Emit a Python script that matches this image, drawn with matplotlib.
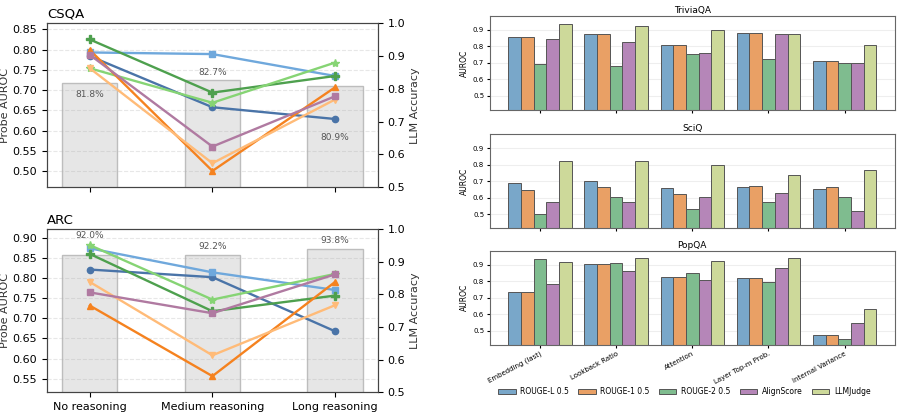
import numpy as np
import matplotlib
matplotlib.use("Agg")
import matplotlib.pyplot as plt

# ------------------------------------------------------------------
# Data
# ------------------------------------------------------------------
reasoning = ["No reasoning", "Medium reasoning", "Long reasoning"]

csqa_acc = [81.8, 82.7, 80.9]
csqa_lines = [
    [0.784, 0.658, 0.629],
    [0.793, 0.789, 0.735],
    [0.825, 0.694, 0.735],
    [0.754, 0.669, 0.768],
    [0.799, 0.501, 0.707],
    [0.754, 0.520, 0.677],
    [0.787, 0.561, 0.685],
]

arc_acc = [92.0, 92.2, 93.8]
arc_lines = [
    [0.822, 0.803, 0.668],
    [0.875, 0.815, 0.771],
    [0.861, 0.718, 0.757],
    [0.883, 0.747, 0.811],
    [0.732, 0.556, 0.791],
    [0.791, 0.608, 0.733],
    [0.765, 0.713, 0.810],
]

methods = ["Embedding (last)", "Lookback Ratio", "Attention",
           "Layer Top-m Prob.", "Internal Variance"]
metrics = ["ROUGE-L 0.5", "ROUGE-1 0.5", "ROUGE-2 0.5", "AlignScore", "LLMJudge"]

triviaqa = [
    [0.856, 0.878, 0.811, 0.882, 0.712],
    [0.856, 0.878, 0.811, 0.882, 0.712],
    [0.694, 0.682, 0.757, 0.724, 0.700],
    [0.845, 0.827, 0.759, 0.876, 0.698],
    [0.936, 0.922, 0.900, 0.876, 0.809],
]
sciq = [
    [0.689, 0.703, 0.658, 0.666, 0.652],
    [0.646, 0.664, 0.622, 0.670, 0.664],
    [0.500, 0.606, 0.530, 0.573, 0.606],
    [0.575, 0.573, 0.606, 0.630, 0.518],
    [0.823, 0.825, 0.796, 0.740, 0.768],
]
popqa = [
    [0.736, 0.906, 0.827, 0.821, 0.474],
    [0.736, 0.906, 0.827, 0.821, 0.474],
    [0.935, 0.912, 0.851, 0.796, 0.449],
    [0.786, 0.863, 0.809, 0.882, 0.547],
    [0.918, 0.941, 0.924, 0.943, 0.632],
]

# ------------------------------------------------------------------
# Styles
# ------------------------------------------------------------------
line_colors = ["#4a74a8", "#6fa8dc", "#4ea04e", "#86d474",
               "#f5821f", "#ffbb78", "#b07aa1"]
line_markers = ["o", "s", "P", "*", "^", "v", "s"]
bar_colors = ["#79a7c9", "#e9a065", "#7fbc8f", "#b586b8", "#cdd99a"]

csqa_label_y = [0.783, 0.851, 0.652]
arc_label_y = [0.979, 0.948, 0.964]

fig = plt.figure(figsize=(9.02, 4.15), dpi=100)


def reasoning_panel(rect, title, acc, lines, label_y, show_xlabels):
    ax = fig.add_axes(rect)
    ax2 = ax.twinx()
    x = np.arange(len(reasoning))
    ax2.bar(x, np.array(acc) / 100, width=0.45, color="#e6e6e6",
            edgecolor="#bdbdbd", linewidth=1.0, zorder=1)
    for xi, a, ly in zip(x, acc, label_y):
        ax2.text(xi, ly, f"{a:.1f}%", ha="center", va="center",
                 fontsize=6.5, color="#555555")
    ax2.set_ylim(0.5, 1.0)
    ax2.set_ylabel("LLM Accuracy", fontsize=8, color="#333333", labelpad=3)
    ax2.tick_params(labelsize=8)

    for vals, c, m in zip(lines, line_colors, line_markers):
        ms = 6 if m in ("P", "*") else 4.5
        ax.plot(x, vals, color=c, marker=m, markersize=ms, linewidth=1.7)
    allv = np.array(lines)
    ax.set_ylim(allv.min() - 0.04, allv.max() + 0.04)
    ax.yaxis.set_major_locator(matplotlib.ticker.MultipleLocator(0.05))
    ax.set_xlim(-0.35, 2.35)
    ax.set_xticks(x)
    if show_xlabels:
        ax.set_xticklabels(reasoning, fontsize=8)
    else:
        ax.set_xticklabels([])
    ax.tick_params(labelsize=8)
    ax.set_ylabel("Probe AUROC", fontsize=8, color="#333333", labelpad=2)
    ax.grid(axis="y", linestyle="--", alpha=0.3)
    ax.set_title(title, loc="left", fontsize=9.5, pad=4)
    ax.set_zorder(ax2.get_zorder() + 1)
    ax.patch.set_visible(False)
    for a in (ax, ax2):
        for s in a.spines.values():
            s.set_color("#444444")
    return ax


reasoning_panel([0.052, 0.549, 0.367, 0.395], "CSQA", csqa_acc, csqa_lines,
                csqa_label_y, False)
reasoning_panel([0.052, 0.055, 0.367, 0.393], "ARC", arc_acc, arc_lines,
                arc_label_y, True)


def metric_panel(rect, title, values, show_xlabels):
    ax = fig.add_axes(rect)
    x = np.arange(len(methods))
    w = 0.1667
    for i, (vals, c) in enumerate(zip(values, bar_colors)):
        ax.bar(x + (i - 2) * w, vals, width=w, color=c, edgecolor="#555555",
               linewidth=0.7, label=metrics[i], zorder=2)
    ax.set_ylim(0.415, 0.985)
    ax.set_yticks([0.5, 0.6, 0.7, 0.8, 0.9])
    ax.set_xticks(x)
    if show_xlabels:
        ax.set_xticklabels(methods, rotation=28, ha="right", fontsize=6,
                           rotation_mode="anchor")
    else:
        ax.set_xticklabels([])
    ax.tick_params(labelsize=5, length=2, pad=2)
    ax.set_ylabel("AUROC", fontsize=5.5, labelpad=3)
    ax.set_title(title, fontsize=6.5, pad=2)
    ax.grid(axis="y", color="#eeeeee", linewidth=0.8, zorder=0)
    ax.set_axisbelow(True)
    for s in ax.spines.values():
        s.set_color("#666666")
    return ax


metric_panel([0.543, 0.735, 0.449, 0.2265], "TriviaQA", triviaqa, False)
metric_panel([0.543, 0.450, 0.449, 0.2265], "SciQ", sciq, False)
ax_pop = metric_panel([0.543, 0.169, 0.449, 0.2265], "PopQA", popqa, True)
ax_pop.legend(loc="upper center", bbox_to_anchor=(0.48, -0.38), ncol=5,
              fontsize=5.5, frameon=False, handlelength=2.3, handleheight=0.7,
              columnspacing=1.2, handletextpad=0.6)

fig.savefig("out.png", dpi=100)
